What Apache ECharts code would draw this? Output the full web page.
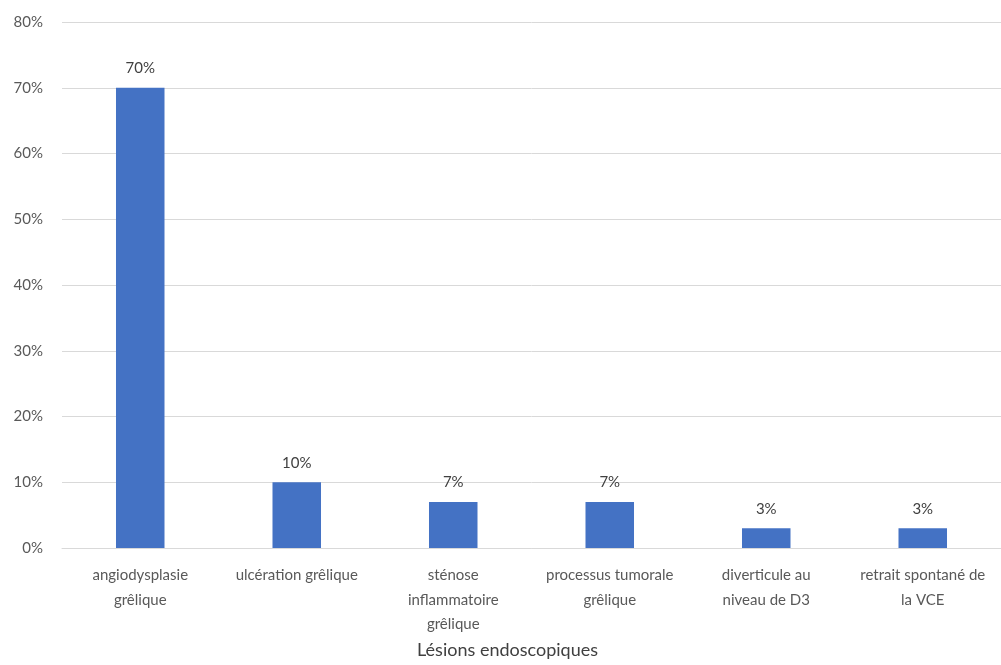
<!DOCTYPE html>
<html><head><meta charset="utf-8">
<script src="https://cdn.jsdelivr.net/npm/echarts@6/dist/echarts.min.js"></script>
<style>html,body{margin:0;padding:0;background:#fff}#c{width:1001px;height:665px}</style>
</head><body><div id="c"></div>
<script>
const categories = ["angiodysplasie\ngrêlique", "ulcération grêlique", "sténose\ninflammatoire\ngrêlique", "processus tumorale\ngrêlique", "diverticule au\nniveau de D3", "retrait spontané de\nla VCE"];
const values = [70, 10, 7, 7, 3, 3];
const yTicks = [0, 10, 20, 30, 40, 50, 60, 70, 80];
const xTitle = "Lésions endoscopiques";

const chart = echarts.init(document.getElementById('c'), null, {renderer: 'canvas'});
const font = "Lato, 'Open Sans', sans-serif";
chart.setOption({
  animation: false,
  grid: {left: 62, right: 0, top: 22, bottom: 117, containLabel: false},
  xAxis: {
    type: 'category', data: categories,
    name: xTitle, nameLocation: 'middle', nameGap: 93,
    nameTextStyle: {fontFamily: font, fontSize: 18, color: '#404040', padding: [0, 48, 0, 0]},
    axisLine: {show: true, lineStyle: {color: '#d9d9d9'}},
    axisTick: {show: false},
    axisLabel: {interval: 0, fontFamily: font, fontSize: 15, color: '#595959', lineHeight: 24.5, margin: 15}
  },
  yAxis: {
    type: 'value', min: yTicks[0], max: yTicks[yTicks.length - 1], interval: 10,
    axisLine: {show: false}, axisTick: {show: false},
    splitLine: {lineStyle: {color: '#d9d9d9', width: 1}},
    axisLabel: {formatter: v => v + '%', fontFamily: font, fontSize: 15, color: '#595959', margin: 19}
  },
  series: [{
    type: 'bar', data: values, barWidth: '31%',
    itemStyle: {color: '#4472c4'},
    label: {show: true, position: 'top', distance: 12, formatter: p => p.value + '%', fontFamily: font, fontSize: 15, color: '#404040'}
  }]
});
</script></body></html>
